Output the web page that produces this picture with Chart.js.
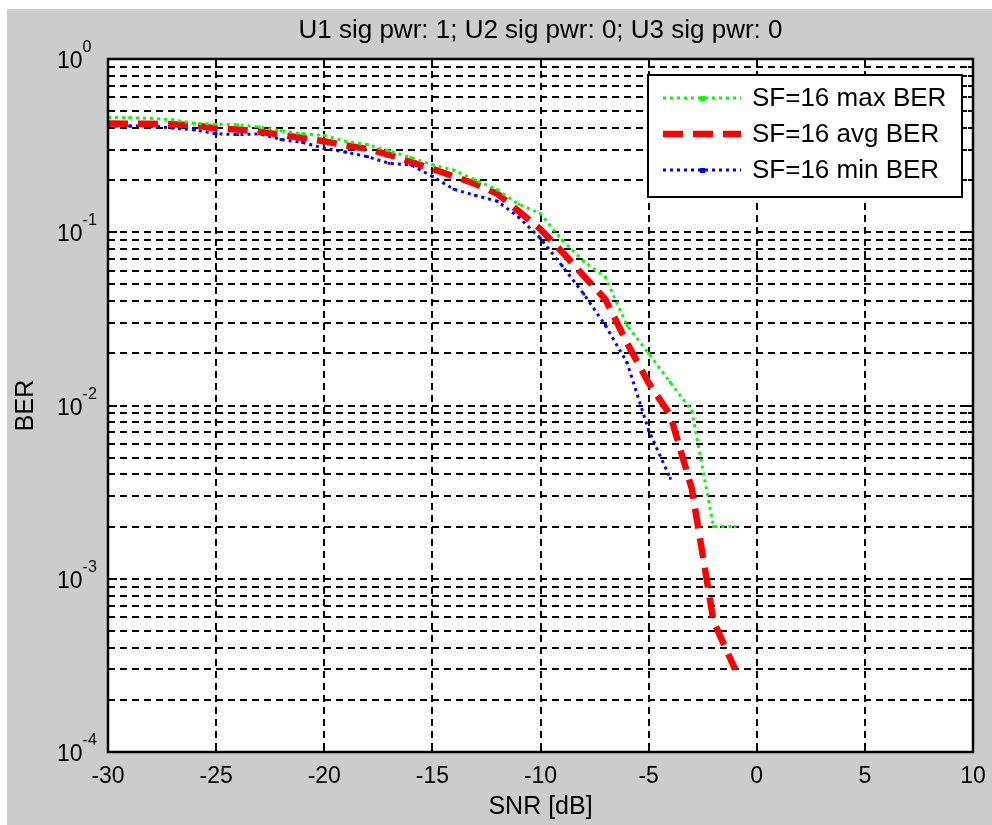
<!DOCTYPE html>
<html>
<head>
<meta charset="utf-8">
<script src="https://cdn.jsdelivr.net/npm/chart.js@4/dist/chart.umd.min.js"></script>
<style>
  html, body { margin: 0; padding: 0; background: #fff; }
  #wrap { width: 992px; height: 825px; }
</style>
</head>
<body>
<div id="wrap"><canvas id="chart-ber" width="992" height="825"></canvas></div>
<script>
// datos
const snr = [-30, -29, -28, -27, -26, -25, -24, -23, -22, -21,
             -20, -19, -18, -17, -16, -15, -14, -13, -12, -11,
             -10, -9, -8, -7, -6, -5, -4, -3, -2, -1];
const maxBer = [0.46, 0.458, 0.455, 0.445, 0.425, 0.42, 0.417, 0.405, 0.385, 0.37,
                0.362, 0.335, 0.32, 0.295, 0.27, 0.245, 0.228, 0.2, 0.176, 0.145,
                0.128, 0.09, 0.068, 0.055, 0.029, 0.02, 0.0136, 0.0093, 0.002, 0.002];
const avgBer = [0.425, 0.423, 0.423, 0.42, 0.415, 0.397, 0.392, 0.38, 0.365, 0.35,
                0.335, 0.317, 0.303, 0.28, 0.255, 0.232, 0.21, 0.19, 0.167, 0.132,
                0.104, 0.077, 0.056, 0.041, 0.023, 0.0135, 0.0088, 0.0033, 0.00057, 0.0003];
const minBer = [0.41, 0.41, 0.41, 0.40, 0.39, 0.37, 0.366, 0.37, 0.343, 0.33,
                0.305, 0.29, 0.273, 0.25, 0.245, 0.21, 0.177, 0.163, 0.151, 0.122,
                0.092, 0.064, 0.044, 0.029, 0.0177, 0.0072, 0.0038];

const xTicks = [-30, -25, -20, -15, -10, -5, 0, 5, 10];
const decades = [0, -1, -2, -3, -4];
const minorSteps = [2, 3, 4, 5, 6, 7, 8, 9];

const titulo = 'U1 sig pwr: 1; U2 sig pwr: 0; U3 sig pwr: 0';
const xTitulo = 'SNR [dB]';
const yTitulo = 'BER';
const FONT = '"Liberation Sans", Arial, sans-serif';

// ticks del eje log: decadas y subdivisiones
const yTicks = [];
decades.forEach(e => {
    yTicks.push(Math.pow(10, e));
    if (e > -4) minorSteps.forEach(m => yTicks.push(m * Math.pow(10, e - 1)));
});

const series = [
    { label: 'SF=16 max BER', data: maxBer, color: '#00ff00', width: 3, dash: [3, 4], points: true },
    { label: 'SF=16 avg BER', data: avgBer, color: '#ff0000', width: 6.5, dash: [20, 10], points: false },
    { label: 'SF=16 min BER', data: minBer, color: '#0000ff', width: 3, dash: [3, 4], points: true }
];

const fondoPlugin = {
    id: 'fondo',
    beforeDraw(chart) {
        const ctx = chart.ctx;
        const a = chart.chartArea;
        ctx.save();
        ctx.fillStyle = '#ffffff';
        ctx.fillRect(0, 0, chart.width, chart.height);
        ctx.fillStyle = '#cccccc';
        ctx.fillRect(7, 9, chart.width - 7, chart.height - 9);
        ctx.fillStyle = '#ffffff';
        ctx.fillRect(a.left, a.top, a.right - a.left, a.bottom - a.top);
        ctx.restore();
    }
};

const ejesPlugin = {
    id: 'ejes',
    afterDraw(chart) {
        const ctx = chart.ctx;
        const a = chart.chartArea;
        const xs = chart.scales.x;
        const ys = chart.scales.y;
        ctx.save();

        // ticks hacia dentro
        ctx.strokeStyle = '#000';
        ctx.lineWidth = 2;
        ctx.setLineDash([]);
        xTicks.forEach(v => {
            const px = Math.round(xs.getPixelForValue(v));
            ctx.beginPath();
            ctx.moveTo(px, a.bottom); ctx.lineTo(px, a.bottom - 9);
            ctx.moveTo(px, a.top); ctx.lineTo(px, a.top + 9);
            ctx.stroke();
        });
        yTicks.forEach(v => {
            const py = Math.round(ys.getPixelForValue(v));
            const len = decades.includes(Math.round(Math.log10(v) * 1000) / 1000) ? 9 : 5;
            ctx.beginPath();
            ctx.moveTo(a.left, py); ctx.lineTo(a.left + len, py);
            ctx.moveTo(a.right, py); ctx.lineTo(a.right - len, py);
            ctx.stroke();
        });

        // marco
        ctx.lineWidth = 2.5;
        ctx.strokeRect(a.left, a.top, a.right - a.left, a.bottom - a.top);

        // textos
        ctx.fillStyle = '#000';
        ctx.font = '26px ' + FONT;
        ctx.textAlign = 'center';
        ctx.textBaseline = 'middle';
        ctx.fillText(titulo, (a.left + a.right) / 2, 31);

        ctx.font = '23px ' + FONT;
        xTicks.forEach(v => {
            ctx.fillText(String(v), xs.getPixelForValue(v), 777);
        });

        ctx.font = '25px ' + FONT;
        ctx.fillText(xTitulo, (a.left + a.right) / 2, 807);

        ctx.save();
        ctx.translate(26, (a.top + a.bottom) / 2);
        ctx.rotate(-Math.PI / 2);
        ctx.fillText(yTitulo, 0, 0);
        ctx.restore();

        ctx.textAlign = 'left';
        ctx.textBaseline = 'alphabetic';
        decades.forEach(e => {
            const py = ys.getPixelForValue(Math.pow(10, e));
            ctx.font = '23px ' + FONT;
            ctx.fillText('10', 57, py + 9);
            const w = ctx.measureText('10').width;
            ctx.font = '16px ' + FONT;
            ctx.fillText(String(e), 57 + w, py - 7);
        });

        // leyenda
        const lx = 648, ly = 75, lw = 314, lh = 122;
        ctx.fillStyle = '#fff';
        ctx.fillRect(lx, ly, lw, lh);
        ctx.lineWidth = 2;
        ctx.strokeRect(lx, ly, lw, lh);
        const filas = [98, 134, 170];
        series.forEach((s, i) => {
            const y = filas[i];
            ctx.strokeStyle = s.color;
            ctx.lineWidth = s.width;
            ctx.setLineDash(s.dash);
            ctx.beginPath();
            ctx.moveTo(663, y); ctx.lineTo(741, y);
            ctx.stroke();
            ctx.setLineDash([]);
            if (s.points) {
                ctx.fillStyle = s.color;
                ctx.fillRect(700, y - 2, 5, 5);
            }
            ctx.strokeStyle = '#000';
            ctx.fillStyle = '#000';
            ctx.font = '26px ' + FONT;
            ctx.textBaseline = 'middle';
            ctx.fillText(s.label, 752, y + 1);
        });
        ctx.restore();
    }
};

const ctxBer = document.getElementById('chart-ber').getContext('2d');
const berChart = new Chart(ctxBer, {
    type: 'line',
    data: {
        datasets: series.map(s => ({
            label: s.label,
            data: s.data.map((v, i) => ({ x: snr[i], y: v })),
            borderColor: s.color,
            backgroundColor: s.color,
            borderWidth: s.width,
            borderDash: s.dash,
            pointRadius: s.points ? 2 : 0,
            pointStyle: 'rect',
            pointBorderWidth: 0,
            tension: 0,
            fill: false
        }))
    },
    options: {
        responsive: false,
        animation: false,
        events: [],
        layout: { padding: { top: 59, right: 19, left: 0, bottom: 0 } },
        plugins: {
            legend: { display: false },
            title: { display: false },
            tooltip: { enabled: false }
        },
        scales: {
            x: {
                type: 'linear',
                min: -30,
                max: 10,
                afterBuildTicks: scale => { scale.ticks = xTicks.map(v => ({ value: v })); },
                afterFit: scale => { scale.height = 73; },
                ticks: { display: false },
                grid: { color: '#000', lineWidth: 2, drawTicks: false },
                border: { display: false, dash: [7, 5] }
            },
            y: {
                type: 'logarithmic',
                min: 0.0001,
                max: 1,
                afterBuildTicks: scale => { scale.ticks = yTicks.map(v => ({ value: v })); },
                afterFit: scale => { scale.width = 108; },
                ticks: { display: false },
                grid: { color: '#000', lineWidth: 2, drawTicks: false },
                border: { display: false, dash: [7, 5] }
            }
        }
    },
    plugins: [fondoPlugin, ejesPlugin]
});
</script>
</body>
</html>
